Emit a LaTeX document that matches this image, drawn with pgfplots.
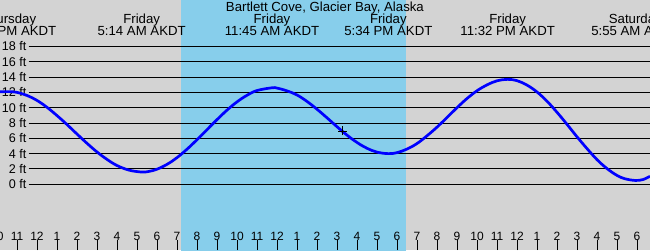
\documentclass[border=0pt]{standalone}
\usepackage{pgfplots}
\pgfplotsset{compat=1.18}
\usepackage{fontspec}
\setmainfont{Liberation Sans}
\definecolor{bggray}{HTML}{D3D3D3}
\definecolor{sky}{HTML}{87CEEB}
\tikzset{toplab/.style={anchor=base, inner sep=0pt, font=\fontsize{13.2}{14}\selectfont}}
\begin{document}
\begin{tikzpicture}
\useasboundingbox (0,0) rectangle (650pt,250pt);
\begin{axis}[
  at={(0,0)}, anchor=south west,
  scale only axis, width=650pt, height=250pt,
  xmin=-1.85, xmax=30.65, ymin=-8.58, ymax=24.06,
  axis on top,
  axis line style={draw=none},
  axis background/.style={fill=bggray},
  xtick={-2,...,30},
  xticklabels={10,11,12,1,2,3,4,5,6,7,8,9,10,11,12,1,2,3,4,5,6,7,8,9,10,11,12,1,2,3,4,5,6},
  xtick pos=bottom, tick align=inside, major tick length=10pt,
  x tick style={black, line width=0.8pt},
  xticklabel style={anchor=base, yshift=10pt, inner sep=0pt, font=\fontsize{12}{13}\selectfont},
  extra x ticks={0,24}, extra x tick labels={},
  extra x tick style={major tick length=10pt, tick style={black, line width=2.6pt}},
  ytick=\empty,
  /pgf/number format/assume math mode=true,
]
\addplot[fill=sky, draw=none] coordinates {(7.2,-9) (18.45,-9) (18.45,25) (7.2,25)} -- cycle;
\pgfplotsinvokeforeach{0,2,4,6,8,10,12,14,16,18}{
  \draw[black, line width=1pt] (axis cs:-0.42,#1) -- (axis cs:31,#1);
  \node[anchor=base east, inner sep=0pt, yshift=-4.5pt, font=\fontsize{12.6}{13}\selectfont] at (axis cs:-0.52,#1) {#1 ft};
}
\addplot[blue, line width=2.7pt, smooth, tension=0.6] coordinates {
(-1.85,12.07) (-1.42,12.1) (-1,12.0) (-0.5,11.6) (0,10.95) (0.5,10.05) (1,8.97) (1.5,7.8) (2,6.56) (2.5,5.35) (3,4.22) (3.5,3.25) (4,2.45) (4.6,1.85)
(5.23,1.6) (5.6,1.68) (6,1.97) (6.5,2.6) (7,3.48) (7.5,4.58) (8,5.82) (8.5,7.13) (9,8.44) (9.5,9.68) (10,10.76) (10.5,11.62) (11,12.24) (11.75,12.6)
(12,12.56) (12.5,12.2) (13,11.66) (13.5,10.82) (14,9.80) (14.5,8.68) (15,7.52) (15.5,6.42) (16,5.46) (16.5,4.7) (17,4.20) (17.57,4.0)
(18,4.13) (18.5,4.6) (19,5.32) (19.5,6.33) (20,7.46) (20.5,8.72) (21,10.0) (21.5,11.2) (22,12.21) (22.5,12.98) (23,13.51) (23.53,13.7)
(24,13.53) (24.5,12.95) (25,12.05) (25.5,10.85) (26,9.40) (26.5,7.83) (27,6.20) (27.5,4.66) (28,3.22) (28.5,2.05) (29,1.16) (29.4,0.72) (29.92,0.5) (30.3,0.62) (30.65,1.05)
};
\addplot[only marks, mark=+, mark size=4.5pt, black, line width=0.8pt] coordinates {(15.28,6.96)};
\node[anchor=base, inner sep=0pt, font=\fontsize{12}{13}\selectfont, yshift=10pt] at (axis cs:-2,-8.58) {10};
\node[toplab] at (axis cs:14.395,22.58) {Bartlett Cove, Glacier Bay, Alaska};
\node[toplab] at (axis cs:-1.42,20.93) {Thursday};
\node[toplab] at (axis cs:-1.42,19.45) {10:35 PM AKDT};
\node[toplab] at (axis cs:5.233,20.93) {Friday};
\node[toplab] at (axis cs:5.233,19.45) {5:14 AM AKDT};
\node[toplab] at (axis cs:11.75,20.93) {Friday};
\node[toplab] at (axis cs:11.75,19.45) {11:45 AM AKDT};
\node[toplab] at (axis cs:17.567,20.93) {Friday};
\node[toplab] at (axis cs:17.567,19.45) {5:34 PM AKDT};
\node[toplab] at (axis cs:23.533,20.93) {Friday};
\node[toplab] at (axis cs:23.533,19.45) {11:32 PM AKDT};
\node[toplab] at (axis cs:29.917,20.93) {Saturday};
\node[toplab] at (axis cs:29.917,19.45) {5:55 AM AKDT};
\end{axis}
\end{tikzpicture}
\end{document}
